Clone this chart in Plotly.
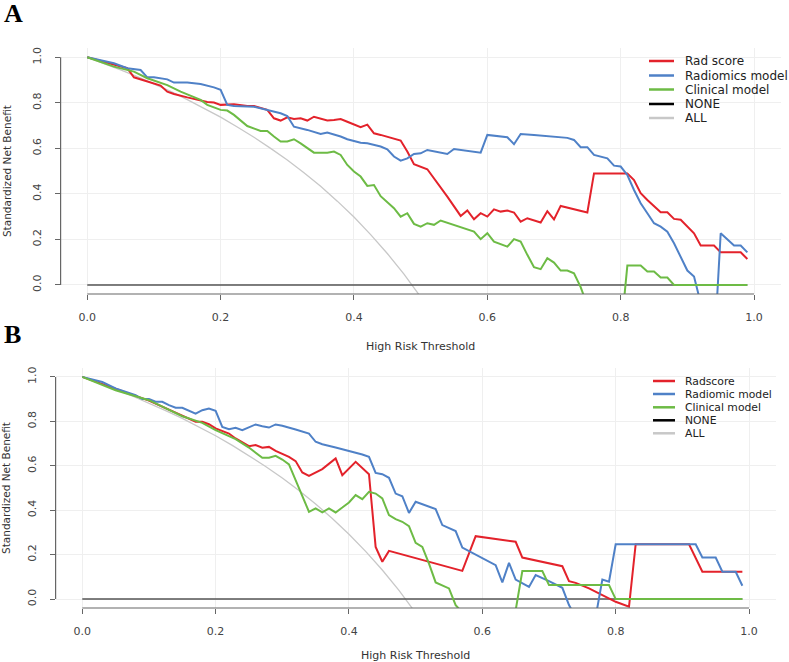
"""Decision curves (standardized net benefit) for two cohorts, panels A and B."""

from __future__ import annotations

import plotly.graph_objects as go

W, H = 789, 662
FONT = "DejaVu Sans"

RED = "#e3222b"
BLUE = "#4f81c7"
GREEN = "#6dbb45"
NONE_C = "#555555"
ALL_C = "#c8c8c8"

TICKS = [0.0, 0.2, 0.4, 0.6, 0.8, 1.0]
TICK_TEXT = ["0.0", "0.2", "0.4", "0.6", "0.8", "1.0"]

# ---------------- panel A ----------------
A_RAD_X = [0, 0.03, 0.06, 0.07, 0.09, 0.10, 0.11, 0.12, 0.13, 0.15, 0.17, 0.18, 0.19, 0.20,
           0.22, 0.24, 0.25, 0.27, 0.28, 0.29, 0.30, 0.31, 0.32, 0.33, 0.34, 0.35, 0.36,
           0.37, 0.38, 0.39, 0.40, 0.41, 0.42, 0.43, 0.44, 0.45, 0.47, 0.48, 0.49, 0.51,
           0.52, 0.54, 0.56, 0.57, 0.58, 0.59, 0.60, 0.61, 0.62, 0.63, 0.64, 0.65, 0.66,
           0.68, 0.69, 0.70, 0.71, 0.73, 0.75, 0.76, 0.81, 0.82, 0.83, 0.84, 0.85, 0.86,
           0.87, 0.88, 0.89, 0.90, 0.91, 0.92, 0.94, 0.95, 0.98, 0.99]
A_RAD_Y = [1.0, 0.975, 0.952, 0.912, 0.893, 0.883, 0.876, 0.849, 0.839, 0.824, 0.810, 0.804,
           0.801, 0.791, 0.794, 0.786, 0.786, 0.769, 0.732, 0.722, 0.736, 0.729, 0.732, 0.722,
           0.739, 0.732, 0.722, 0.725, 0.729, 0.717, 0.706, 0.693, 0.704, 0.666, 0.659, 0.650,
           0.634, 0.586, 0.530, 0.508, 0.469, 0.388, 0.303, 0.327, 0.288, 0.315, 0.300, 0.332,
           0.322, 0.327, 0.318, 0.278, 0.293, 0.274, 0.324, 0.288, 0.347, 0.332, 0.318, 0.490,
           0.490, 0.461, 0.403, 0.373, 0.347, 0.319, 0.319, 0.290, 0.286, 0.256, 0.227, 0.173,
           0.173, 0.143, 0.143, 0.114]

A_RMD_X = [0, 0.04, 0.06, 0.08, 0.09, 0.10, 0.12, 0.13, 0.15, 0.17, 0.19, 0.20, 0.21, 0.22,
           0.25, 0.27, 0.29, 0.30, 0.31, 0.33, 0.35, 0.36, 0.38, 0.39, 0.41, 0.42, 0.44,
           0.45, 0.46, 0.47, 0.48, 0.49, 0.50, 0.51, 0.52, 0.54, 0.55, 0.57, 0.59, 0.60,
           0.62, 0.63, 0.64, 0.65, 0.67, 0.70, 0.72, 0.73, 0.74, 0.75, 0.76, 0.78, 0.79,
           0.80, 0.81, 0.82, 0.83, 0.84, 0.85, 0.86, 0.87, 0.88, 0.89, 0.90, 0.91, 0.92,
           0.93, 0.94, 0.95, 0.97, 0.98, 0.99]
A_RMD_Y = [1.0, 0.974, 0.952, 0.944, 0.912, 0.912, 0.903, 0.889, 0.889, 0.883, 0.868, 0.857,
           0.791, 0.786, 0.783, 0.769, 0.754, 0.742, 0.695, 0.681, 0.663, 0.669, 0.652, 0.640,
           0.625, 0.622, 0.608, 0.596, 0.564, 0.546, 0.556, 0.575, 0.578, 0.593, 0.586, 0.575,
           0.597, 0.590, 0.581, 0.659, 0.652, 0.649, 0.618, 0.663, 0.659, 0.652, 0.646, 0.637,
           0.605, 0.605, 0.571, 0.556, 0.524, 0.520, 0.483, 0.417, 0.359, 0.315, 0.271, 0.256,
           0.234, 0.183, 0.124, 0.063, 0.037, -0.08, -0.30, -0.30, 0.227, 0.173, 0.173, 0.143]

A_CLN_X = [0, 0.04, 0.07, 0.09, 0.12, 0.14, 0.17, 0.18, 0.20, 0.21, 0.22, 0.23, 0.24, 0.26,
           0.27, 0.28, 0.29, 0.30, 0.31, 0.32, 0.34, 0.36, 0.37, 0.38, 0.39, 0.40, 0.41,
           0.42, 0.43, 0.44, 0.45, 0.46, 0.47, 0.48, 0.49, 0.50, 0.51, 0.52, 0.53, 0.55,
           0.57, 0.58, 0.59, 0.60, 0.61, 0.63, 0.64, 0.65, 0.66, 0.67, 0.68, 0.69, 0.70,
           0.71, 0.72, 0.73, 0.74, 0.75, 0.76, 0.79, 0.80, 0.81, 0.83, 0.84, 0.85, 0.86,
           0.87, 0.88, 0.99]
A_CLN_Y = [1.0, 0.959, 0.937, 0.908, 0.878, 0.849, 0.813, 0.791, 0.769, 0.766, 0.747, 0.722,
           0.698, 0.676, 0.676, 0.652, 0.630, 0.630, 0.640, 0.622, 0.581, 0.581, 0.586, 0.571,
           0.527, 0.498, 0.476, 0.435, 0.439, 0.390, 0.362, 0.337, 0.300, 0.315, 0.268, 0.256,
           0.271, 0.264, 0.283, 0.264, 0.242, 0.234, 0.201, 0.227, 0.190, 0.168, 0.201, 0.190,
           0.132, 0.078, 0.069, 0.117, 0.098, 0.063, 0.063, 0.051, -0.01, -0.09, -0.25, -0.25,
           -0.22, 0.085, 0.085, 0.059, 0.059, 0.032, 0.032, 0.0, 0.0]

A_ALL_X = [0, 0.025, 0.05, 0.075, 0.1, 0.125, 0.15, 0.175, 0.2, 0.225, 0.25, 0.275, 0.3,
           0.325, 0.35, 0.375, 0.4, 0.425, 0.45, 0.475, 0.5]
A_ALL_Y = [1.0, 0.973, 0.945, 0.915, 0.883, 0.850, 0.814, 0.777, 0.737, 0.694, 0.649, 0.600,
           0.549, 0.493, 0.433, 0.368, 0.298, 0.221, 0.138, 0.047, -0.053]

A_NONE_X = [0, 0.99]
A_NONE_Y = [0, 0]

# ---------------- panel B ----------------
B_RAD_X = [0, 0.05, 0.10, 0.17, 0.18, 0.19, 0.20, 0.22, 0.23, 0.25, 0.26, 0.27, 0.28, 0.29,
           0.31, 0.32, 0.33, 0.34, 0.35, 0.36, 0.38, 0.39, 0.41, 0.42, 0.43, 0.44, 0.45,
           0.46, 0.57, 0.59, 0.65, 0.66, 0.71, 0.72, 0.73, 0.74, 0.76, 0.78, 0.80, 0.82,
           0.83, 0.91, 0.93, 0.99]
B_RAD_Y = [1.0, 0.945, 0.893, 0.798, 0.798, 0.787, 0.768, 0.745, 0.723, 0.688, 0.693, 0.681,
           0.685, 0.667, 0.640, 0.621, 0.570, 0.555, 0.570, 0.585, 0.633, 0.558, 0.618, 0.588,
           0.562, 0.235, 0.168, 0.217, 0.127, 0.283, 0.258, 0.187, 0.153, 0.148, 0.081, 0.073,
           0.048, 0.018, -0.012, -0.034, 0.247, 0.247, 0.123, 0.123]

B_RMD_X = [0, 0.03, 0.05, 0.08, 0.09, 0.10, 0.11, 0.12, 0.13, 0.14, 0.15, 0.16, 0.17, 0.18,
           0.19, 0.20, 0.21, 0.22, 0.23, 0.24, 0.25, 0.26, 0.27, 0.28, 0.29, 0.30, 0.32,
           0.34, 0.35, 0.36, 0.38, 0.40, 0.41, 0.42, 0.43, 0.44, 0.45, 0.46, 0.47, 0.48,
           0.49, 0.50, 0.53, 0.54, 0.56, 0.57, 0.62, 0.63, 0.64, 0.65, 0.67, 0.68, 0.70,
           0.72, 0.73, 0.74, 0.75, 0.76, 0.77, 0.78, 0.79, 0.80, 0.92, 0.93, 0.95, 0.96,
           0.98, 0.99]
B_RMD_Y = [1.0, 0.977, 0.948, 0.918, 0.900, 0.900, 0.888, 0.888, 0.873, 0.861, 0.861, 0.847,
           0.835, 0.850, 0.858, 0.847, 0.775, 0.765, 0.771, 0.760, 0.772, 0.786, 0.778, 0.772,
           0.786, 0.780, 0.763, 0.745, 0.708, 0.697, 0.682, 0.667, 0.660, 0.651, 0.640, 0.568,
           0.562, 0.546, 0.475, 0.463, 0.388, 0.438, 0.405, 0.333, 0.306, 0.232, 0.153, 0.075,
           0.163, 0.088, 0.055, 0.108, 0.081, 0.051, -0.027, -0.08, -0.20, -0.20, -0.08, 0.088,
           0.078, 0.247, 0.247, 0.187, 0.187, 0.123, 0.123, 0.060]

B_CLN_X = [0, 0.05, 0.10, 0.15, 0.18, 0.20, 0.23, 0.25, 0.27, 0.28, 0.29, 0.30, 0.31, 0.32,
           0.33, 0.34, 0.35, 0.36, 0.37, 0.38, 0.39, 0.40, 0.41, 0.42, 0.43, 0.44, 0.45,
           0.46, 0.47, 0.48, 0.49, 0.50, 0.51, 0.52, 0.53, 0.55, 0.56, 0.57, 0.58, 0.64,
           0.65, 0.66, 0.69, 0.70, 0.79, 0.80, 0.99]
B_CLN_Y = [1.0, 0.940, 0.895, 0.823, 0.793, 0.760, 0.720, 0.682, 0.636, 0.636, 0.645, 0.628,
           0.606, 0.535, 0.460, 0.393, 0.408, 0.390, 0.408, 0.390, 0.412, 0.435, 0.468, 0.450,
           0.483, 0.475, 0.453, 0.378, 0.360, 0.348, 0.328, 0.253, 0.235, 0.160, 0.075, 0.048,
           -0.027, -0.06, -0.15, -0.15, -0.05, 0.126, 0.126, 0.063, 0.063, 0.0, 0.0]

B_ALL_X = A_ALL_X
B_ALL_Y = [1.0, 0.973, 0.944, 0.914, 0.882, 0.848, 0.813, 0.775, 0.735, 0.692, 0.646, 0.597,
           0.545, 0.489, 0.428, 0.363, 0.292, 0.215, 0.131, 0.039, -0.062]

B_NONE_X = [0, 0.99]
B_NONE_Y = [0, 0]

LEGEND_A = ["Rad score", "Radiomics model", "Clinical model", "NONE", "ALL"]
LEGEND_B = ["Radscore", "Radiomic model", "Clinical model", "NONE", "ALL"]
LEGEND_COLORS = [RED, BLUE, GREEN, "#000000", ALL_C]

# panel geometry in pixels: left, right, top, bottom
PANELS = {
    "A": dict(box=(60.6, 780.7, 48.2, 294.0), legend_x=(649, 674, 684),
              legend_y=[61, 75.5, 89.5, 104, 118], legend_size=12, letter_y=13),
    "B": dict(box=(55.6, 775.7, 368.0, 608.0), legend_x=(653, 675, 684),
              legend_y=[381, 394, 407.3, 420.3, 433.3], legend_size=10.8, letter_y=334),
}


def _line(x, y, color, width, xa, ya, name):
    return go.Scatter(x=x, y=y, mode="lines", name=name, xaxis=xa, yaxis=ya,
                      line=dict(color=color, width=width), showlegend=False,
                      hoverinfo="x+y+name")


def _axes(fig: go.Figure, idx: str, box) -> None:
    left, right, top, bottom = box
    xkey = "xaxis" if idx == "" else f"xaxis{idx}"
    ykey = "yaxis" if idx == "" else f"yaxis{idx}"
    common = dict(tickvals=TICKS, ticktext=TICK_TEXT, ticks="outside", ticklen=5,
                  tickcolor="#666666", tickwidth=1, showline=False, zeroline=False,
                  showgrid=True, gridcolor="#efefef", gridwidth=1, automargin=False,
                  tickfont=dict(family=FONT, size=11, color="#444444"),
                  range=[-0.04, 1.04])
    fig.update_layout({
        xkey: dict(common, domain=[left / W, right / W], anchor=f"y{idx}",
                   ticklabelstandoff=8,
                   title=dict(text="High Risk Threshold", standoff=19,
                              font=dict(family=FONT, size=11, color="#333333"))),
        ykey: dict(common, domain=[1 - bottom / H, 1 - top / H], anchor=f"x{idx}",
                   tickangle=-90, ticklabelstandoff=9,
                   title=dict(text="Standardized Net Benefit", standoff=17,
                              font=dict(family=FONT, size=10.5, color="#333333"))),
    })
    xr, yr = f"x{idx}", f"y{idx}"
    fig.add_shape(type="line", xref=xr, yref=f"{yr} domain", x0=0, x1=1, y0=0, y1=0,
                  line=dict(color="#666666", width=1.2))
    fig.add_shape(type="line", xref=f"{xr} domain", yref=yr, x0=0, x1=0, y0=0, y1=1,
                  line=dict(color="#666666", width=1.2))


def _legend(fig: go.Figure, names, spec) -> None:
    x0, x1, xt = spec["legend_x"]
    for name, color, ypx in zip(names, LEGEND_COLORS, spec["legend_y"]):
        yp = 1 - ypx / H
        fig.add_shape(type="line", xref="paper", yref="paper", x0=x0 / W, x1=x1 / W,
                      y0=yp, y1=yp, line=dict(color=color, width=2.5))
        fig.add_annotation(x=xt / W, y=yp, xref="paper", yref="paper", text=name,
                           showarrow=False, xanchor="left", yanchor="middle",
                           borderpad=0,
                           font=dict(family=FONT, size=spec["legend_size"],
                                     color="#222222"))


fig = go.Figure()

series = [
    ("", A_ALL_X, A_ALL_Y, A_NONE_X, A_NONE_Y, A_RAD_X, A_RAD_Y, A_RMD_X, A_RMD_Y,
     A_CLN_X, A_CLN_Y, LEGEND_A),
    ("2", B_ALL_X, B_ALL_Y, B_NONE_X, B_NONE_Y, B_RAD_X, B_RAD_Y, B_RMD_X, B_RMD_Y,
     B_CLN_X, B_CLN_Y, LEGEND_B),
]
for (idx, ax, ay, nx, ny, rx, ry, mx, my, cx, cy, names) in series:
    xa, ya = f"x{idx}", f"y{idx}"
    fig.add_trace(_line(ax, ay, ALL_C, 1.3, xa, ya, names[4]))
    fig.add_trace(_line(nx, ny, NONE_C, 1.5, xa, ya, names[3]))
    fig.add_trace(_line(rx, ry, RED, 2, xa, ya, names[0]))
    fig.add_trace(_line(mx, my, BLUE, 2, xa, ya, names[1]))
    fig.add_trace(_line(cx, cy, GREEN, 2, xa, ya, names[2]))

for idx, key in (("", "A"), ("2", "B")):
    spec = PANELS[key]
    _axes(fig, idx, spec["box"])
    _legend(fig, LEGEND_A if key == "A" else LEGEND_B, spec)
    fig.add_annotation(x=3 / W, y=1 - spec["letter_y"] / H, xref="paper", yref="paper",
                       text=f"<b>{key}</b>", showarrow=False, xanchor="left",
                       yanchor="middle", borderpad=0,
                       font=dict(family="Liberation Serif", size=26, color="#000000"))

fig.update_layout(template="none", width=W, height=H, margin=dict(l=0, r=0, t=0, b=0),
                  paper_bgcolor="white", plot_bgcolor="white", showlegend=False)

# the page body has a default 8px margin; drop it so the figure fills the window
fig.write_html("out.html", config={"displayModeBar": False},
               post_script="document.body.style.margin = '0';")
